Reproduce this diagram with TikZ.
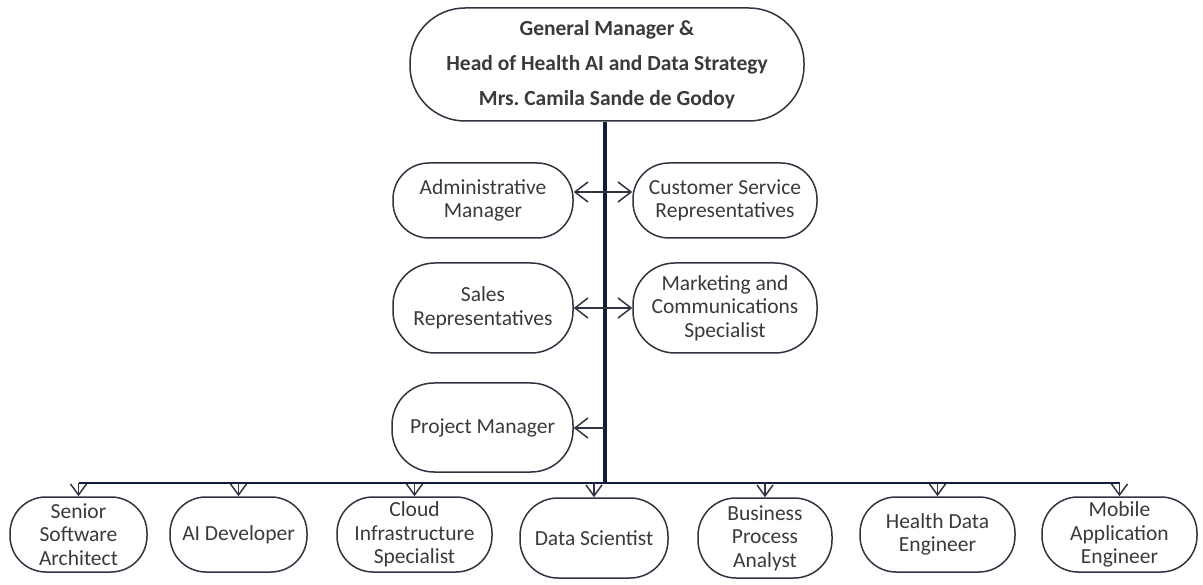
\documentclass[tikz,border=0pt]{standalone}
\usepackage{fontspec}
\setmainfont{Carlito}
\usetikzlibrary{arrows.meta}
\definecolor{navy}{HTML}{111E3A}
\definecolor{edge}{HTML}{2E3440}
\definecolor{ink}{HTML}{3A3A3A}
\tikzset{barb/.tip={Straight Barb[length=13pt,width=20pt,line width=1.5pt]},
  vbarb/.tip={Straight Barb[length=11pt,width=16pt,line width=1.5pt]}}
\begin{document}
\begin{tikzpicture}[x=1pt,y=-1pt,
  box/.style={draw=edge,line width=1.5pt,rounded corners=36pt,inner sep=0pt,align=center,text=ink,font=\fontsize{21.5}{23.5}\selectfont},
  head/.style={box,rounded corners=55pt,font=\bfseries\fontsize{21.5}{35}\selectfont,minimum width=394pt,minimum height=113pt},
  staff/.style={box,minimum width=#1},
  bottom/.style={box,minimum width=#1},
  link/.style={draw=edge,line width=1.5pt},
  down/.style={link,-vbarb}]
\useasboundingbox (0,0) rectangle (1203,585);
% head of the company
\node[head] (gm) at (607,64.5) {General Manager \&\\Head of Health AI and Data Strategy\\Mrs.\ Camila Sande de Godoy};
% staff around the trunk
\node[staff=180pt,minimum height=75pt] (adm) at (483,200.5) {Administrative\\Manager};
\node[staff=184pt,minimum height=75pt] (csr) at (725,200.5) {Customer Service\\Representatives};
\node[staff=180pt,minimum height=90pt,rounded corners=42pt] (sal) at (483,308) {Sales\\Representatives};
\node[staff=184pt,minimum height=90pt,rounded corners=42pt] (mcs) at (725,308) {Marketing and\\Communications\\Specialist};
\node[staff=181pt,minimum height=89pt,rounded corners=42pt] (pm) at (482.5,427.5) {Project Manager};
% technical team
\node[bottom=137pt,minimum height=75pt] (ssa) at (78.5,534.5) {Senior\\Software\\Architect};
\node[bottom=137pt,minimum height=75pt] (aid) at (238.5,534.5) {AI Developer};
\node[bottom=155pt,minimum height=75pt] (cis) at (414.5,534.5) {Cloud\\Infrastructure\\Specialist};
\node[bottom=148pt,minimum height=80pt,rounded corners=38pt] (ds) at (594,538) {Data Scientist};
\node[bottom=134pt,minimum height=80pt,rounded corners=38pt] (bpa) at (765,538) {Business\\Process\\Analyst};
\node[bottom=155pt,minimum height=75pt] (hde) at (937.5,534.5) {Health Data\\Engineer};
\node[bottom=155pt,minimum height=75pt] (mae) at (1119.5,534.5) {Mobile\\Application\\Engineer};
% trunk and bus
\coordinate (junc) at (605,483);
\coordinate (t1) at (605,192);
\coordinate (t2) at (605,308);
\coordinate (t3) at (605,428);
\draw[navy,line width=3.5pt] (gm.south -| junc) -- (junc);
\draw[navy,line width=2.5pt] (ssa.north |- junc) -- (mae.north |- junc);
% side links
\draw[link,barb-barb] (adm.east |- t1) -- (csr.west |- t1);
\draw[link,barb-barb] (sal.east |- t2) -- (mcs.west |- t2);
\draw[link,-barb] (t3) -- (pm.east |- t3);
\foreach \n in {ssa,aid,cis,ds,bpa,hde,mae}
  \draw[down] (\n.north |- junc) -- (\n.north);
\end{tikzpicture}
\end{document}
